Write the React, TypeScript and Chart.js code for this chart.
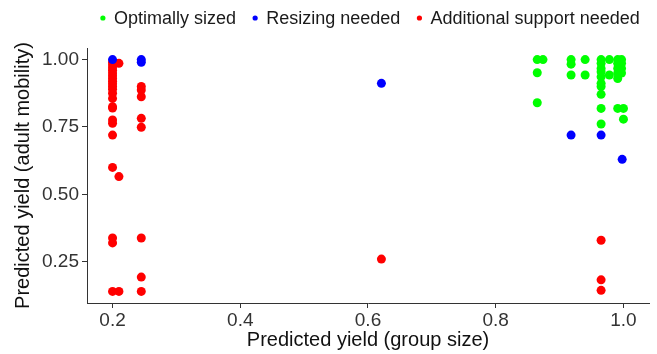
import React, { useEffect, useRef } from "react";
import { Chart, registerables } from "chart.js";

Chart.register(...registerables);

const seriesLabels = ["Optimally sized", "Resizing needed", "Additional support needed"];
const seriesColors = ["#00FF00", "#0000FF", "#FF0000"];

const optimalX = [0.865, 0.874, 0.865, 0.865, 0.918, 0.918, 0.918, 0.94, 0.94,
  0.965, 0.965, 0.965, 0.965, 0.965, 0.965, 0.965, 0.965, 0.965, 0.965,
  0.978, 0.978, 0.991, 0.991, 0.991, 0.991, 0.991, 0.997, 0.997, 0.997, 0.997,
  0.991, 1.0, 1.0];
const optimalY = [1.0, 1.0, 0.951, 0.84, 1.0, 0.983, 0.943, 1.0, 0.943,
  1.0, 0.986, 0.967, 0.955, 0.936, 0.912, 0.9, 0.871, 0.819, 0.761,
  1.0, 0.943, 1.0, 0.986, 0.967, 0.95, 0.93, 1.0, 0.986, 0.967, 0.95,
  0.819, 0.819, 0.779];

const resizeX = [0.2, 0.245, 0.245, 0.621, 0.918, 0.965, 0.998];
const resizeY = [1.0, 1.0, 0.99, 0.912, 0.72, 0.72, 0.63];

const supportX = [0.2, 0.2, 0.2, 0.2, 0.2, 0.2, 0.2, 0.2, 0.2, 0.2, 0.2, 0.2, 0.2, 0.2, 0.2, 0.2, 0.2, 0.2, 0.2, 0.2, 0.2, 0.2,
  0.21, 0.21, 0.21,
  0.245, 0.245, 0.245, 0.245, 0.245, 0.245, 0.245, 0.245,
  0.621,
  0.965, 0.965, 0.965];
const supportY = [0.99, 0.98, 0.97, 0.96, 0.95, 0.94, 0.93, 0.92, 0.91, 0.9, 0.89, 0.875, 0.856, 0.825, 0.82, 0.776, 0.764, 0.72, 0.6, 0.338, 0.32, 0.14,
  0.986, 0.566, 0.14,
  0.9, 0.887, 0.862, 0.782, 0.749, 0.338, 0.193, 0.14,
  0.26,
  0.33, 0.183, 0.144];

const xTicks = [0.2, 0.4, 0.6, 0.8, 1.0];
const yTicks = [0.25, 0.5, 0.75, 1.0];

const FONT = "'Liberation Sans', Arial, sans-serif";

const legendPlugin = {
  id: "topLegend",
  afterDraw(chart: any) {
    const ctx = chart.ctx;
    const area = chart.chartArea;
    ctx.save();
    ctx.font = `18px ${FONT}`;
    ctx.textBaseline = "middle";
    const dotR = 2.6;
    const gapDotText = 8.5;
    const gapItems = 16.5;
    const items = chart.data.datasets.map((d: any) => ({
      label: d.label,
      color: d.backgroundColor,
      w: ctx.measureText(d.label).width,
    }));
    const total = items.reduce((s: number, it: any) => s + dotR * 2 + gapDotText + it.w, 0) + gapItems * (items.length - 1);
    let x = (area.left + area.right) / 2 - total / 2 + 2;
    const y = 18;
    for (const it of items) {
      ctx.fillStyle = it.color;
      ctx.beginPath();
      ctx.arc(x + dotR, y, dotR, 0, Math.PI * 2);
      ctx.fill();
      x += dotR * 2 + gapDotText;
      ctx.fillStyle = "#1a1a1a";
      ctx.fillText(it.label, x, y + 1);
      x += it.w + gapItems;
    }
    ctx.restore();
  },
};

function zip(xs: number[], ys: number[]) {
  return xs.map((x, i) => ({ x, y: ys[i] }));
}

export default function App() {
  const ref = useRef<HTMLCanvasElement>(null);
  useEffect(() => {
    document.body.style.margin = "0";
    const canvas = ref.current!;
    const series = [zip(optimalX, optimalY), zip(resizeX, resizeY), zip(supportX, supportY)];
    const chart = new Chart(canvas, {
      type: "scatter",
      data: {
        datasets: series.map((data, i) => ({
          label: seriesLabels[i],
          data,
          backgroundColor: seriesColors[i],
          borderColor: seriesColors[i],
          borderWidth: 0,
          pointRadius: 4.5,
        })),
      },
      options: {
        animation: false,
        responsive: false,
        layout: { padding: { top: 48, right: 8, left: 0, bottom: 0 } },
        plugins: { legend: { display: false }, tooltip: { enabled: false } },
        scales: {
          x: {
            type: "linear",
            min: 0.16,
            max: 1.04,
            afterBuildTicks: (s: any) => { s.ticks = xTicks.map((v) => ({ value: v })); },
            afterFit: (s: any) => { s.height = 51; },
            grid: { display: true, drawOnChartArea: false, drawTicks: true, tickLength: 5, color: "#333333" },
            border: { display: true, color: "#333333", width: 1 },
            ticks: {
              color: "#333333",
              padding: 1,
              maxRotation: 0,
              font: { family: FONT, size: 19 },
              callback: (v: any) => Number(v).toFixed(1),
            },
            title: {
              display: true,
              text: "Predicted yield (group size)",
              color: "#111111",
              font: { family: FONT, size: 20 },
              padding: { top: 0, bottom: 2 },
            },
          },
          y: {
            type: "linear",
            min: 0.097,
            max: 1.043,
            afterBuildTicks: (s: any) => { s.ticks = yTicks.map((v) => ({ value: v })); },
            afterFit: (s: any) => { s.width = 87; },
            grid: { display: true, drawOnChartArea: false, drawTicks: true, tickLength: 5, color: "#333333" },
            border: { display: true, color: "#333333", width: 1 },
            ticks: {
              color: "#333333",
              padding: 3,
              font: { family: FONT, size: 19 },
              callback: (v: any) => Number(v).toFixed(2),
            },
            title: {
              display: true,
              text: "Predicted yield (adult mobility)",
              color: "#111111",
              font: { family: FONT, size: 20 },
              padding: { top: 11, bottom: 0 },
            },
          },
        },
      },
      plugins: [legendPlugin],
    });
    return () => chart.destroy();
  }, []);
  return <canvas ref={ref} width={657} height={354} style={{ display: "block" }} />;
}
